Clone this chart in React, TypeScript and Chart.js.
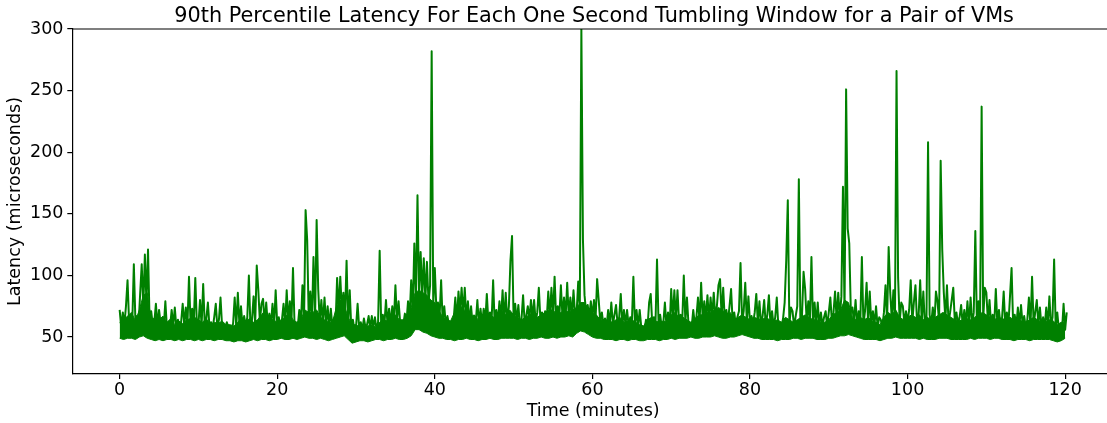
import React, { useEffect, useRef } from "react";
import { Chart, registerables } from "chart.js";

Chart.register(...registerables);

const FONT = "'DejaVu Sans', 'Liberation Sans', sans-serif";

const TITLE = "90th Percentile Latency For Each One Second Tumbling Window for a Pair of VMs";
const X_LABEL = "Time (minutes)";
const Y_LABEL = "Latency (microseconds)";
const X_TICKS = [0, 20, 40, 60, 80, 100, 120];
const Y_TICKS = [50, 100, 150, 200, 250, 300];
const LINE_COLOR = "#008000";

// sampling interval of the hand-read spike series (minutes)
const SAMPLE_STEP_MIN = 0.2;
// start minute of each 10-minute block below
const BLOCK_START_MIN = [0, 10, 20, 30, 40, 50, 60, 70, 80, 90, 100, 110];

// 90th percentile latency (microseconds): spike tops and the notches between them
const LAT_00_10 = [72,58,70,60,75,96,62,66,61,109, 63,67,60,85,109,74,117,78,121,62, 71,60,62,77,59,72,61,63,58,79, 57,60,58,72,59,74,57,64,58,62, 77,60,74,59,99,61,73,60,98,60];
const LAT_10_20 = [60,80,59,93,60,65,78,58,62,57, 66,77,58,64,82,59,60,57,62,58, 58,56,61,82,58,86,60,75,58,67, 59,66,100,58,64,83,60,108,88,62, 77,81,61,78,60,69,60,77,59,88];
const LAT_20_30 = [60,66,58,64,77,60,88,62,79,61, 106,59,61,58,72,60,92,63,153,129, 64,87,62,115,64,145,89,62,80,61, 82,60,75,58,73,58,65,60,98,70, 99,72,86,66,112,60,88,57,64,56];
const LAT_30_40 = [58,77,57,62,56,65,58,60,67,57, 67,58,66,56,62,120,58,68,60,80, 60,73,60,75,62,92,63,79,62,57, 60,69,62,79,66,96,70,126,80,165, 84,119,82,114,80,111,78,92,282,76];
const LAT_40_50 = [106,72,78,66,96,62,75,60,67,60, 62,58,65,82,62,87,70,90,68,90, 64,79,62,75,60,67,62,80,60,73, 60,73,62,85,62,70,62,96,60,72, 62,79,64,88,62,86,62,75,112,132];
const LAT_50_60 = [64,77,62,76,60,64,84,62,67,75, 64,80,65,80,62,70,90,64,70,64, 71,64,87,66,90,66,99,64,75,66, 92,66,82,66,94,66,82,66,88,68, 70,95,72,300,129,84,70,76,66,79];
const LAT_60_70 = [66,80,64,97,80,62,70,60,65,58, 72,60,78,60,68,76,60,66,85,59, 72,60,72,59,66,60,99,60,72,58, 72,58,57,56,64,58,78,85,60,66, 59,113,60,68,58,61,78,59,70,58];
const LAT_70_80 = [89,64,88,64,88,62,68,62,100,62, 82,60,56,58,72,60,66,82,62,94, 64,79,64,84,64,82,66,86,66,75, 92,97,66,90,64,72,62,75,89,62, 70,60,66,71,110,62,71,94,62,83];
const LAT_80_90 = [62,67,61,70,85,61,79,60,67,80, 60,68,84,60,71,59,66,82,59,61, 58,65,78,112,161,60,74,71,58,67, 75,178,60,67,103,89,62,79,62,115, 60,78,60,78,59,70,59,66,71,58];
const LAT_90_100 = [70,82,62,70,87,64,86,66,83,172, 70,251,138,126,70,74,62,80,60,71, 61,115,60,71,94,60,87,60,71,60, 75,58,66,64,58,70,92,62,123,86, 64,88,64,266,98,62,78,75,61,71];
const LAT_100_110 = [62,72,96,62,78,92,62,67,96,62, 87,60,64,208,68,60,74,60,87,79, 62,193,121,86,64,92,62,70,80,90, 62,70,60,66,76,59,72,60,79,60, 82,60,70,136,60,79,62,237,64,90];
const LAT_110_120 = [86,62,80,60,68,60,89,60,72,59, 66,87,60,70,60,83,106,60,68,59, 74,59,76,60,67,58,64,82,58,99, 60,70,80,60,74,58,66,58,74,59, 83,59,66,113,58,70,56,58,55,77, 56,70];

const BLOCKS = [LAT_00_10, LAT_10_20, LAT_20_30, LAT_30_40, LAT_40_50, LAT_50_60, LAT_60_70, LAT_70_80, LAT_80_90, LAT_90_100, LAT_100_110, LAT_110_120];

// dense core of the trace, one value per half minute (0..120): lower and upper edge of the solid band
const BAND_STEP_MIN = 0.5;
const BAND_BOTTOM = [
  49,48,49,49,48,50,51,49,48,47, 48,47,48,48,47,48,47,48,48,47,
  48,47,48,48,47,48,48,47,47,46, 47,47,46,47,48,47,48,48,47,48,
  48,49,48,48,49,48,49,50,49,49, 48,49,48,47,48,49,50,51,48,45,
  46,47,47,46,47,48,48,47,48,48, 49,48,48,49,51,56,56,54,53,51,
  50,49,49,48,48,47,48,48,49,48, 48,47,48,48,49,48,48,49,49,49,
  49,48,49,49,48,49,49,50,49,49, 50,49,50,50,51,50,53,55,54,52,
  50,49,49,48,48,48,47,48,48,47, 48,48,47,47,48,48,48,47,48,48,
  49,48,49,49,49,50,49,49,50,50, 50,51,50,49,49,50,50,51,52,51,
  50,49,49,48,48,48,48,47,48,48, 48,49,49,48,49,49,49,48,48,48,
  49,49,50,51,51,52,51,50,49,48, 48,48,48,47,48,49,49,50,49,49,
  49,49,49,48,49,48,48,48,49,49, 49,48,48,48,48,48,49,48,49,49,
  49,48,49,49,48,48,48,47,48,48, 48,47,48,48,48,48,48,47,46,47,
  49,
];
const BAND_TOP = [
  62,64,67,70,63,72,84,86,64,66, 64,67,62,65,60,63,61,64,65,66,
  64,62,65,60,62,61,63,60,60,59, 62,66,63,65,62,64,68,72,66,64,
  62,64,66,70,64,62,64,72,70,70, 72,66,64,62,62,74,80,76,66,60,
  60,58,60,59,60,58,62,64,63,66, 68,64,64,68,74,86,88,86,84,80,
  78,72,66,64,63,70,76,74,70,66, 68,64,66,70,68,66,68,72,68,72,
  68,66,64,66,68,70,66,68,70,72, 72,68,70,72,70,72,74,78,78,72,
  70,68,64,62,64,62,64,66,62,63, 64,62,60,59,64,66,63,62,63,62,
  68,70,66,66,64,62,64,68,68,70, 70,72,74,72,68,70,64,66,68,66,
  64,66,65,64,66,64,63,64,62,66, 64,62,64,66,68,66,64,64,62,62,
  64,68,70,72,80,78,66,64,66,64, 66,63,62,60,66,70,68,72,66,64,
  66,68,66,68,64,66,64,66,68,70, 68,66,64,63,64,65,64,66,68,70,
  68,66,64,66,65,64,66,64,64,63, 62,64,66,64,62,62,64,63,60,62,
  62,
];

function buildPoints() {
  const pts: { x: number; y: number }[] = [];
  BLOCKS.forEach((block, k) => {
    block.forEach((v, j) => {
      pts.push({ x: BLOCK_START_MIN[k] + j * SAMPLE_STEP_MIN, y: v });
    });
  });
  return pts;
}

function bandPoints(values: number[]) {
  return values.map((v, i) => ({ x: i * BAND_STEP_MIN, y: v }));
}

const framePlugin = {
  id: "frame",
  afterDraw(chart: any) {
    const { ctx, chartArea } = chart;
    const { left, right, top } = chartArea;
    ctx.save();
    ctx.strokeStyle = "#000";
    ctx.lineWidth = 1.2;
    ctx.beginPath();
    ctx.moveTo(left, top);
    ctx.lineTo(right, top);
    ctx.stroke();
    ctx.fillStyle = "#000";
    ctx.font = `20.8px ${FONT}`;
    ctx.textAlign = "center";
    ctx.textBaseline = "alphabetic";
    ctx.fillText(TITLE, (left + right) / 2 + 1, 22);
    ctx.restore();
  },
};

export default function App() {
  const ref = useRef<HTMLCanvasElement | null>(null);
  useEffect(() => {
    if (!ref.current) return;
    const tickFont = { family: FONT, size: 17.5 };
    const chart = new Chart(ref.current, {
      type: "line",
      data: {
        datasets: [
          {
            label: "latency",
            data: buildPoints(),
            borderColor: LINE_COLOR,
            backgroundColor: LINE_COLOR,
            borderWidth: 2,
            pointRadius: 0,
            tension: 0,
            fill: false,
            borderJoinStyle: "round",
          } as any,
          {
            label: "band-bottom",
            data: bandPoints(BAND_BOTTOM),
            borderColor: LINE_COLOR,
            borderWidth: 1,
            pointRadius: 0,
            tension: 0,
            fill: false,
          } as any,
          {
            label: "band-top",
            data: bandPoints(BAND_TOP),
            borderColor: LINE_COLOR,
            backgroundColor: LINE_COLOR,
            borderWidth: 1,
            pointRadius: 0,
            tension: 0,
            fill: "-1",
          } as any,
        ],
      },
      options: {
        animation: false,
        responsive: false,
        maintainAspectRatio: false,
        devicePixelRatio: 1,
        parsing: false,
        normalized: true,
        layout: { padding: { top: 29, right: 2, bottom: 0, left: 0 } },
        plugins: {
          legend: { display: false },
          tooltip: { enabled: false },
          title: { display: false },
        },
        scales: {
          x: {
            type: "linear",
            min: -6.01,
            max: 126.2,
            afterBuildTicks: (s: any) => {
              s.ticks = X_TICKS.map((v) => ({ value: v }));
            },
            afterFit: (s: any) => {
              s.height = 49;
            },
            ticks: {
              font: tickFont,
              color: "#000",
              padding: 1,
              maxRotation: 0,
              autoSkip: false,
              callback: (v: any) => String(v),
            },
            grid: { drawOnChartArea: false, drawTicks: true, tickLength: 5, color: "#000", lineWidth: 1.2 },
            border: { display: true, color: "#000", width: 1.2 },
            title: { display: true, text: X_LABEL, font: tickFont, color: "#000", padding: { top: 0, bottom: 1 } },
          },
          y: {
            type: "linear",
            min: 20,
            max: 300,
            afterBuildTicks: (s: any) => {
              s.ticks = Y_TICKS.map((v) => ({ value: v }));
            },
            afterFit: (s: any) => {
              s.width = 72.3;
            },
            ticks: {
              font: tickFont,
              color: "#000",
              padding: 3.8,
              callback: (v: any) => String(v),
            },
            grid: { drawOnChartArea: false, drawTicks: true, tickLength: 5, color: "#000", lineWidth: 1.2 },
            border: { display: true, color: "#000", width: 1.2 },
            title: { display: true, text: Y_LABEL, font: tickFont, color: "#000", padding: { top: 5.1, bottom: 0 } },
          },
        },
      } as any,
      plugins: [framePlugin],
    });
    return () => chart.destroy();
  }, []);

  return (
    <div style={{ position: "fixed", left: 0, top: 0, width: 1107, height: 423, overflow: "hidden", background: "#fff" }}>
      <canvas ref={ref} width={1116} height={423} style={{ display: "block", width: 1116, height: 423 }} />
    </div>
  );
}
